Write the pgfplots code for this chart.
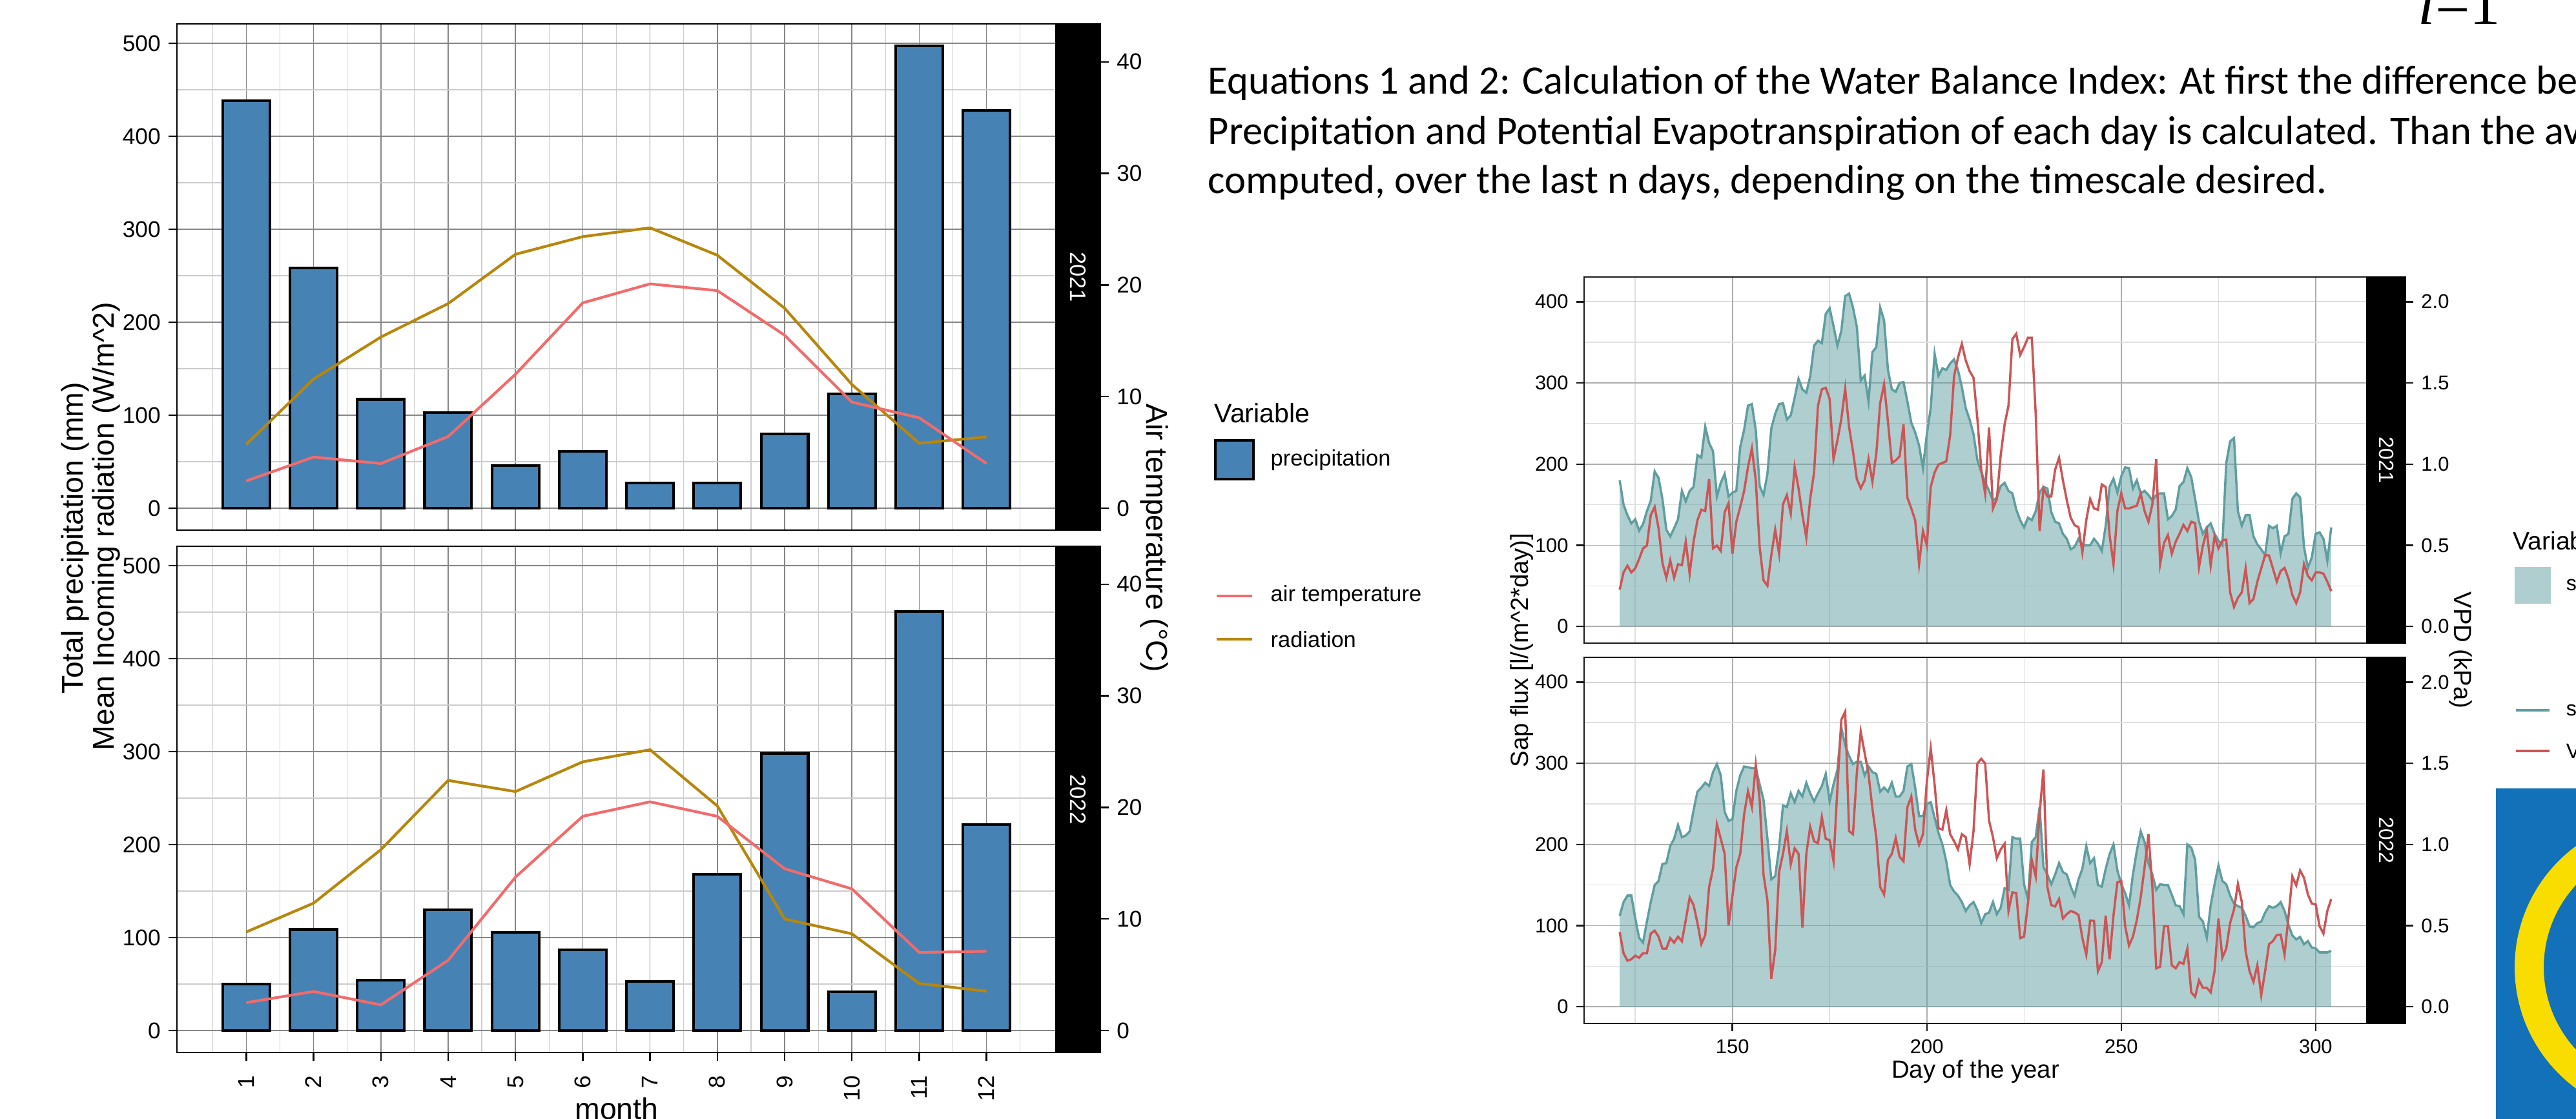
\documentclass[border=0pt]{standalone}
\usepackage{fontspec}
\setmainfont{Liberation Sans}
\newfontfamily\calibri{Carlito}
\newfontfamily\cambria{Liberation Serif}
\usepackage{pgfplots}
\usepackage{pgfplotstable}
\pgfplotsset{compat=1.18}

\definecolor{steel}{HTML}{4682B4}
\definecolor{airt}{HTML}{F26B6B}
\definecolor{rad}{HTML}{B8860B}
\definecolor{sapcol}{HTML}{5F9EA0}
\definecolor{vpdred}{HTML}{CD5555}
\definecolor{logoblue}{HTML}{1271B9}
\definecolor{logoyel}{HTML}{F9DD00}

\newcommand\fsz[1]{\fontsize{#1}{#1}\selectfont}

% monthly climate (temp in deg C, drawn on the x12 secondary scale)
\pgfplotstableread{
month prec rad temp
1 438 68.6 2.44
2 258 138.8 4.58
3 117 184 4.0
4 102.5 220 6.42
5 46 273 12.0
6 61 292 18.4
7 27 301.5 20.1
8 27 272 19.5
9 80 215 15.5
10 122.6 133 9.5
11 497 69.8 8.1
12 427.5 76.7 4.0
}\climA
\pgfplotstableread{
month prec rad temp
1 50 106 2.5
2 108.7 137 3.5
3 54 194.5 2.3
4 130 269 6.3
5 105.5 257 13.75
6 87 289 19.2
7 53 302 20.5
8 168 241.5 19.2
9 297.6 120 14.5
10 41.5 104 12.7
11 451 50.6 7.0
12 221.7 42.3 7.1
}\climB

% daily sap flux and VPD (kPa, drawn on the x200 secondary scale)
\pgfplotstableread{
day sap vpd
121 180 0.227
122 150 0.333
123 137 0.374
124 127 0.333
125 132 0.358
126 118 0.415
127 126 0.481
128 142 0.498
129 155 0.686
130 191 0.736
131 183 0.604
132 157 0.391
133 119 0.300
134 111 0.407
135 121 0.300
136 132 0.383
137 167 0.378
138 154 0.522
139 167 0.325
140 172 0.522
141 211 0.654
142 208 0.719
143 246 0.711
144 226 0.908
145 216 0.481
146 160 0.498
147 177 0.465
148 188 0.703
149 160 0.760
150 165 0.448
151 167 0.645
152 221 0.736
153 242 0.834
154 272 0.982
155 274 1.097
156 242 0.900
157 173 0.489
158 162 0.284
159 188 0.251
160 244 0.440
161 262 0.596
162 274 0.448
163 275 0.752
164 255 0.810
165 260 0.695
166 282 0.982
167 305 0.851
168 292 0.686
169 288 0.547
170 308 0.785
171 346 0.949
172 352 1.360
173 349 1.461
174 385 1.470
175 392 1.401
176 370 1.031
177 346 1.146
178 364 1.277
179 407 1.466
180 410 1.228
181 393 1.080
182 369 0.908
183 303 0.851
184 309 0.900
185 277 1.031
186 338 0.892
187 344 1.064
188 393 1.376
189 377 1.491
190 316 1.261
191 292 1.007
192 289 1.023
193 300 1.048
194 301 1.245
195 277 0.793
196 251 0.727
197 239 0.654
198 223 0.383
199 195 0.588
200 237 0.498
201 269 0.859
202 336 0.949
203 309 0.998
204 318 1.007
205 316 1.018
206 324 1.179
207 329 1.540
208 316 1.655
209 295 1.741
210 269 1.639
211 255 1.573
212 237 1.532
213 205 1.278
214 190 0.966
215 178 0.818
216 167 1.225
217 155 0.727
218 159 0.785
219 173 1.056
220 177 1.245
221 167 1.360
222 164 1.770
223 144 1.803
224 131 1.672
225 122 1.721
226 134 1.778
227 131 1.778
228 142 1.310
229 165 0.588
230 172 0.851
231 170 0.801
232 141 0.801
233 129 0.966
234 127 1.039
235 114 0.900
236 108 0.777
237 95 0.670
238 98 0.624
239 108 0.612
240 100 0.456
241 100 0.654
242 100 0.785
243 108 0.727
244 102 0.719
245 93 0.875
246 124 0.859
247 172 0.563
248 182 0.383
249 165 0.711
250 185 0.821
251 196 0.727
252 195 0.727
253 170 0.736
254 180 0.744
255 164 0.818
256 167 0.711
257 162 0.645
258 155 0.752
259 162 1.031
260 164 0.383
261 164 0.514
262 132 0.563
263 136 0.448
264 144 0.522
265 173 0.571
266 178 0.626
267 195 0.588
268 184 0.645
269 157 0.637
270 129 0.366
271 114 0.498
272 122 0.591
273 127 0.374
274 114 0.555
275 106 0.481
276 100 0.530
277 201 0.535
278 228 0.210
279 232 0.120
280 142 0.177
281 124 0.210
282 137 0.358
283 137 0.144
284 111 0.169
285 101 0.276
286 95 0.358
287 88 0.440
288 124 0.437
289 121 0.358
290 124 0.276
291 90 0.342
292 111 0.361
293 114 0.296
294 157 0.194
295 164 0.144
296 159 0.210
297 98 0.383
298 72 0.312
299 85 0.284
300 114 0.333
301 116 0.333
302 108 0.325
303 81 0.276
304 122 0.218
}\sapA
\pgfplotstableread{
day sap vpd
121 112 0.460
122 129 0.330
123 137 0.284
124 137 0.293
125 109 0.315
126 85 0.302
127 79 0.330
128 105 0.330
129 129 0.451
130 150 0.469
131 155 0.432
132 176 0.358
133 177 0.358
134 198 0.423
135 207 0.395
136 224 0.432
137 209 0.404
138 211 0.534
139 216 0.673
140 242 0.627
141 265 0.516
142 270 0.386
143 276 0.442
144 272 0.738
145 289 0.850
146 299 1.124
147 285 1.035
148 240 0.942
149 229 0.501
150 231 0.683
151 266 0.859
152 285 0.942
153 296 1.184
154 295 1.328
155 294 1.230
156 294 1.490
157 274 1.276
158 255 0.813
159 207 0.655
160 157 0.173
161 161 0.349
162 196 0.831
163 248 0.942
164 246 1.082
165 263 0.878
166 252 0.976
167 266 0.942
168 259 0.488
169 276 0.942
170 263 1.109
171 253 1.020
172 263 1.007
173 272 1.169
174 287 1.035
175 253 1.026
176 274 0.896
177 292 1.351
178 344 1.768
179 322 1.818
180 309 1.082
181 299 1.063
182 302 1.443
183 302 1.694
184 285 1.564
185 296 1.434
186 289 1.221
187 287 1.045
188 265 0.738
189 270 0.692
190 265 0.905
191 276 0.942
192 259 1.039
193 259 0.924
194 266 0.896
195 296 1.230
196 299 1.295
197 270 1.091
198 235 0.998
199 235 1.063
200 250 1.388
201 252 1.592
202 233 1.369
203 214 1.100
204 200 1.091
205 179 1.211
206 150 1.063
207 142 1.020
208 137 0.970
209 129 1.063
210 118 1.045
211 125 0.878
212 129 1.082
213 119 1.499
214 103 1.527
215 114 1.499
216 116 1.147
217 129 1.045
218 114 0.915
219 122 0.970
220 146 1.004
221 144 0.590
222 209 0.705
223 207 0.701
224 207 0.423
225 151 0.432
226 133 0.636
227 203 0.905
228 209 0.803
229 246 1.193
230 172 1.462
231 163 0.738
232 151 0.627
233 163 0.618
234 177 0.664
235 166 0.544
236 163 0.571
237 148 0.590
238 137 0.581
239 157 0.566
240 170 0.423
241 198 0.321
242 177 0.531
243 183 0.529
244 150 0.219
245 148 0.275
246 170 0.562
247 188 0.293
248 200 0.562
249 168 0.766
250 151 0.776
251 140 0.497
252 125 0.377
253 163 0.432
254 192 0.534
255 216 0.673
256 203 0.859
257 177 1.063
258 163 0.738
259 144 0.237
260 151 0.247
261 150 0.497
262 150 0.497
263 138 0.256
264 125 0.237
265 124 0.275
266 114 0.265
267 200 0.358
268 196 0.089
269 181 0.061
270 111 0.163
271 105 0.117
272 85 0.117
273 125 0.089
274 151 0.219
275 174 0.544
276 155 0.302
277 151 0.358
278 137 0.516
279 127 0.599
280 124 0.757
281 122 0.646
282 112 0.340
283 99 0.219
284 98 0.154
285 103 0.256
286 105 0.071
287 116 0.219
288 124 0.386
289 122 0.404
290 124 0.442
291 129 0.445
292 118 0.321
293 101 0.553
294 88 0.803
295 83 0.748
296 86 0.840
297 77 0.794
298 81 0.692
299 73 0.636
300 72 0.631
301 67 0.497
302 67 0.451
303 67 0.590
304 69 0.664
}\sapB

\pgfplotsset{
  clim/.style={
    scale only axis, width=13.61cm, height=7.84cm,
    xmin=-0.03, xmax=13.03, ymin=-23.6, ymax=520.8,
    xtick={1,...,12}, minor xtick={0.5,1.5,...,12.5},
    ytick={0,100,...,500}, minor ytick={50,150,...,450},
    grid=both,
    major grid style={black!48, line width=0.45pt},
    minor grid style={black!20, line width=0.35pt},
    axis line style={black, line width=0.7pt},
    tick align=outside, tick pos=left,
    major tick length=0.13cm, minor tick length=0pt,
    tick style={black, line width=0.7pt},
    tick label style={font=\fsz{10}},
    /pgf/number format/assume math mode=true,
  },
  climstrip/.style={
    scale only axis, width=0.69cm, height=7.84cm,
    xmin=0, xmax=1, ymin=-1.967, ymax=43.4,
    axis background/.style={fill=black},
    axis line style={black},
    xtick=\empty, ytick={0,10,20,30,40},
    ytick pos=right, tick align=outside,
    major tick length=0.13cm, minor tick length=0pt,
    tick style={black, line width=0.7pt},
    tick label style={font=\fsz{10}},
    /pgf/number format/assume math mode=true,
  },
  sap/.style={
    scale only axis, width=12.12cm, height=5.67cm,
    xmin=111.85, xmax=313.15, ymin=-20.5, ymax=430.5,
    xtick={150,200,250,300}, minor xtick={125,175,225,275},
    ytick={0,100,...,400}, minor ytick={50,150,...,350},
    grid=both,
    major grid style={black!32, line width=0.45pt},
    minor grid style={black!12, line width=0.45pt},
    axis line style={black!90, line width=0.8pt},
    tick align=outside, tick pos=left,
    major tick length=0.12cm, minor tick length=0pt,
    tick style={black!90, line width=0.7pt},
    tick label style={font=\fsz{8.8}},
    /pgf/number format/assume math mode=true,
  },
  sapstrip/.style={
    scale only axis, width=0.60cm, height=5.67cm,
    xmin=0, xmax=1, ymin=-0.1025, ymax=2.1525,
    axis background/.style={fill=black},
    axis line style={black},
    xtick=\empty, ytick={0,0.5,...,2},
    ytick pos=right, tick align=outside,
    major tick length=0.12cm, minor tick length=0pt,
    tick style={black!90, line width=0.7pt},
    tick label style={font=\fsz{8.8}},
    yticklabel style={/pgf/number format/.cd, fixed, fixed zerofill, precision=1},
    /pgf/number format/assume math mode=true,
  },
}

\begin{document}
\begin{tikzpicture}
\useasboundingbox (0,0) rectangle (39.89,-17.33);
\clip (0,0) rectangle (39.89,-17.33);

% ---------- left: monthly climate ----------
\begin{axis}[clim, at={(2.74cm,-8.21cm)}, anchor=south west, xticklabels={}, xtick style={draw=none}]
  \addplot[ybar, bar width=0.7, fill=steel, draw=black, line width=1.15pt] table[x=month,y=prec]{\climA};
  \addplot[rad, line width=1.2pt] table[x=month,y=rad]{\climA};
  \addplot[airt, line width=1.2pt] table[x=month,y expr=\thisrow{temp}*12]{\climA};
\end{axis}
\begin{axis}[climstrip, at={(16.35cm,-8.21cm)}, anchor=south west]
  \node[white, rotate=-90, font=\fsz{9.8}] at (rel axis cs:0.5,0.5) {2021};
\end{axis}

\begin{axis}[clim, at={(2.74cm,-16.30cm)}, anchor=south west,
    xticklabel style={rotate=90, anchor=east}, xticklabel shift=0.11cm]
  \addplot[ybar, bar width=0.7, fill=steel, draw=black, line width=1.15pt] table[x=month,y=prec]{\climB};
  \addplot[rad, line width=1.2pt] table[x=month,y=rad]{\climB};
  \addplot[airt, line width=1.2pt] table[x=month,y expr=\thisrow{temp}*12]{\climB};
\end{axis}
\begin{axis}[climstrip, at={(16.35cm,-16.30cm)}, anchor=south west]
  \node[white, rotate=-90, font=\fsz{9.8}] at (rel axis cs:0.5,0.5) {2022};
\end{axis}

\node[rotate=90, inner sep=0, font=\fsz{13.2}] at (1.17,-8.33) {Total precipitation (mm)};
\node[rotate=90, inner sep=0, font=\fsz{13.2}] at (1.65,-8.15) {Mean Incoming radiation (W/m\textasciicircum 2)};
\node[rotate=-90, inner sep=0, font=\fsz{13.2}] at (17.87,-8.33) {Air temperature (°C)};
\node[inner sep=0, font=\fsz{13.2}] at (9.55,-17.17) {month};

\node[anchor=west, inner sep=0, font=\fsz{11.7}] at (18.80,-6.40) {Variable};
\draw[fill=steel, line width=1.15pt] (18.82,-6.82) rectangle (19.41,-7.42);
\node[anchor=west, inner sep=0, font=\fsz{9.8}] at (19.67,-7.13) {precipitation};
\draw[airt, line width=1.2pt] (18.84,-9.23) -- (19.39,-9.23);
\node[anchor=west, inner sep=0, font=\fsz{9.8}] at (19.67,-9.23) {air temperature};
\draw[rad, line width=1.2pt] (18.84,-9.90) -- (19.39,-9.90);
\node[anchor=west, inner sep=0, font=\fsz{9.8}] at (19.67,-9.90) {radiation};

% ---------- slide text ----------
\node[anchor=base west, inner sep=0, font=\calibri\fsz{17.8}] at (18.70,-1.46) {Equations 1 and 2: Calculation of the Water Balance Index: At first the difference between};
\node[anchor=base west, inner sep=0, font=\calibri\fsz{17.8}] at (18.70,-2.24) {Precipitation and Potential Evapotranspiration of each day is calculated. Than the average is};
\node[anchor=base west, inner sep=0, font=\calibri\fsz{17.8}] at (18.70,-3.00) {computed, over the last n days, depending on the timescale desired.};
\node[anchor=base west, inner sep=0, font=\cambria\fsz{27}] at (37.44,-0.38) {\itshape i\upshape =1};

% ---------- right: daily sap flux and VPD ----------
\begin{axis}[sap, at={(24.53cm,-9.96cm)}, anchor=south west, xticklabels={}, xtick style={draw=none}]
  \addplot[draw=none, fill=sapcol, fill opacity=0.5] table[x=day,y=sap]{\sapA} \closedcycle;
  \addplot[sapcol, line width=1.0pt] table[x=day,y=sap]{\sapA};
  \addplot[vpdred, line width=1.0pt] table[x=day,y expr=\thisrow{vpd}*200]{\sapA};
\end{axis}
\begin{axis}[sapstrip, at={(36.65cm,-9.96cm)}, anchor=south west]
  \node[white, rotate=-90, font=\fsz{9.1}] at (rel axis cs:0.5,0.5) {2021};
\end{axis}

\begin{axis}[sap, at={(24.53cm,-15.85cm)}, anchor=south west]
  \addplot[draw=none, fill=sapcol, fill opacity=0.5] table[x=day,y=sap]{\sapB} \closedcycle;
  \addplot[sapcol, line width=1.0pt] table[x=day,y=sap]{\sapB};
  \addplot[vpdred, line width=1.0pt] table[x=day,y expr=\thisrow{vpd}*200]{\sapB};
\end{axis}
\begin{axis}[sapstrip, at={(36.65cm,-15.85cm)}, anchor=south west]
  \node[white, rotate=-90, font=\fsz{9.1}] at (rel axis cs:0.5,0.5) {2022};
\end{axis}

\node[rotate=90, inner sep=0, font=\fsz{10.9}] at (23.57,-10.07) {Sap flux [l/(m\textasciicircum 2*day)]};
\node[rotate=-90, inner sep=0, font=\fsz{10.9}] at (38.10,-10.07) {VPD (kPa)};
\node[inner sep=0, font=\fsz{10.9}] at (30.59,-16.60) {Day of the year};

\node[anchor=west, inner sep=0, font=\fsz{11.1}] at (38.91,-8.38) {Variable};
\fill[sapcol, fill opacity=0.5] (38.94,-8.78) rectangle (39.50,-9.35);
\node[anchor=west, inner sep=0, font=\fsz{9.2}] at (39.73,-9.06) {sap flux};
\draw[sapcol, line width=1.0pt] (38.96,-11.00) -- (39.48,-11.00);
\node[anchor=west, inner sep=0, font=\fsz{9.2}] at (39.73,-11.00) {sap flux};
\draw[vpdred, line width=1.0pt] (38.96,-11.63) -- (39.48,-11.63);
\node[anchor=west, inner sep=0, font=\fsz{9.2}] at (39.73,-11.63) {VPD};

% logo in the corner
\fill[logoblue] (38.65,-12.21) rectangle (40.0,-17.4);
\draw[logoyel, line width=0.45cm] (41.27,-14.98) circle[radius=2.105cm];
\end{tikzpicture}
\end{document}
